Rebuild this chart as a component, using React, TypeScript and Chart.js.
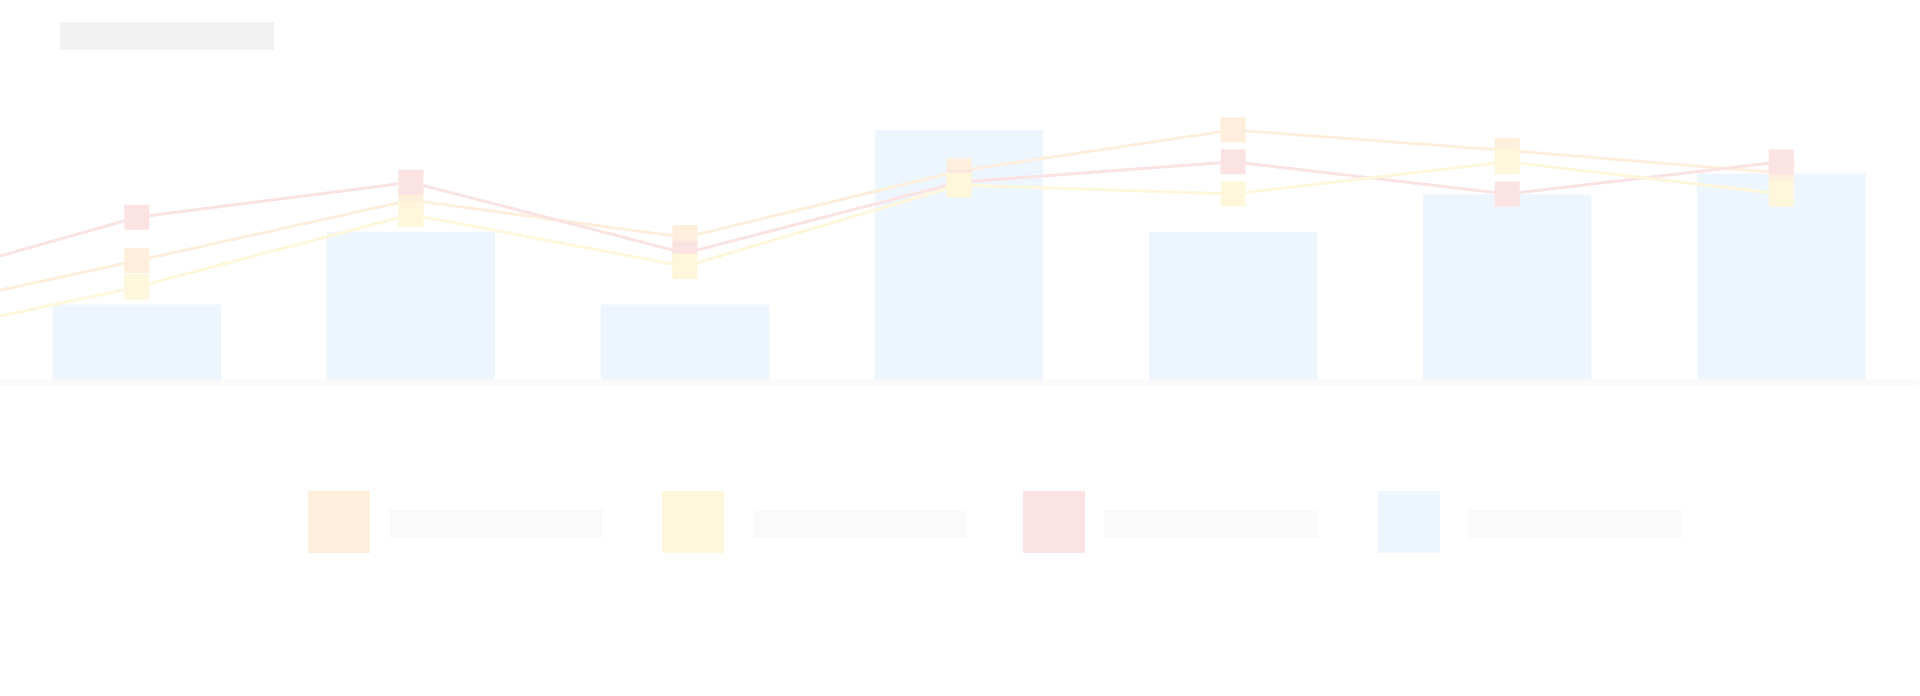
import React, { useEffect, useRef } from "react";
import { Chart, registerables } from "chart.js";

Chart.register(...registerables);

// Categories (the first one lies just off the left edge of the view)
const categories = ["c0", "c1", "c2", "c3", "c4", "c5", "c6", "c7"];

// Series values
const orangeValues = [25.6, 50.8, 76.8, 60.8, 89.2, 106.8, 98, 88.4];
const yellowValues = [14.6, 39.6, 70.6, 48.4, 83.2, 79.4, 93.2, 79.4];
const redValues = [36.2, 69.4, 84.4, 54, 84.4, 93.2, 79.4, 93.2];
const barValues = [null, 32.1, 63.2, 32.1, 106.8, 63.2, 79.3, 88.1];

// Colours
const ORANGE = "#fdefdc";
const YELLOW = "#fef7db";
const RED = "#fbe3e3";
const BLUE = "#edf6fe";
const TITLE_GREY = "#f2f2f2";
const LABEL_GREY = "#fafafa";
const AXIS_GREY = "#fafafa";

const legendColors = [ORANGE, YELLOW, RED, BLUE];
const legendSquareX = [308, 662, 1023, 1378];
const legendLabelX = [389, 753, 1104, 1468];

const CANVAS_W = 2228;
const CANVAS_H = 400;

export default function App() {
  const ref = useRef<HTMLCanvasElement | null>(null);

  useEffect(() => {
    if (!ref.current) return;
    const lineBase = {
      type: "line" as const,
      borderWidth: 3,
      tension: 0,
      pointStyle: "rect" as const,
      pointRadius: 17.7,
      pointHoverRadius: 17.7,
      pointBorderWidth: 0,
      fill: false,
    };
    const chart = new Chart(ref.current, {
      type: "bar",
      data: {
        labels: categories,
        datasets: [
          {
            ...lineBase,
            label: "orange",
            data: orangeValues,
            borderColor: ORANGE,
            backgroundColor: ORANGE,
            pointBackgroundColor: ORANGE,
            order: 2,
          } as any,
          {
            ...lineBase,
            label: "yellow",
            data: yellowValues,
            borderColor: YELLOW,
            backgroundColor: YELLOW,
            pointBackgroundColor: YELLOW,
            order: 0,
          } as any,
          {
            ...lineBase,
            label: "red",
            data: redValues,
            borderColor: RED,
            backgroundColor: RED,
            pointBackgroundColor: RED,
            order: 1,
          } as any,
          {
            type: "bar",
            label: "blue",
            data: barValues,
            backgroundColor: BLUE,
            borderWidth: 0,
            categoryPercentage: 1,
            barPercentage: 0.614,
            order: 3,
          } as any,
        ],
      },
      options: {
        animation: false,
        responsive: false,
        devicePixelRatio: 1,
        layout: { padding: { top: 4, bottom: 6, left: 0, right: 0 } },
        plugins: {
          legend: { display: false },
          title: { display: false },
          tooltip: { enabled: false },
        },
        scales: {
          x: {
            type: "category",
            offset: true,
            display: true,
            grid: { display: false, drawTicks: false },
            ticks: { display: false },
            border: { display: true, color: AXIS_GREY, width: 6 },
          },
          y: {
            display: false,
            min: -1.2,
            max: 154.8,
          },
        },
      },
    });
    return () => chart.destroy();
  }, []);

  return (
    <div
      style={{
        position: "fixed",
        left: 0,
        top: 0,
        width: 1920,
        height: 696,
        overflow: "hidden",
        background: "#ffffff",
      }}
    >
      <canvas
        ref={ref}
        width={CANVAS_W}
        height={CANVAS_H}
        style={{ position: "absolute", left: -292, top: 0, width: CANVAS_W, height: CANVAS_H }}
      />
      <div
        style={{ position: "absolute", left: 60, top: 22, width: 214, height: 28, background: TITLE_GREY }}
      />
      {legendColors.map((c, i) => (
        <React.Fragment key={i}>
          <div
            style={{ position: "absolute", left: legendSquareX[i], top: 491, width: 62, height: 62, background: c }}
          />
          <div
            style={{ position: "absolute", left: legendLabelX[i], top: 509, width: 214, height: 29, background: LABEL_GREY }}
          />
        </React.Fragment>
      ))}
    </div>
  );
}
